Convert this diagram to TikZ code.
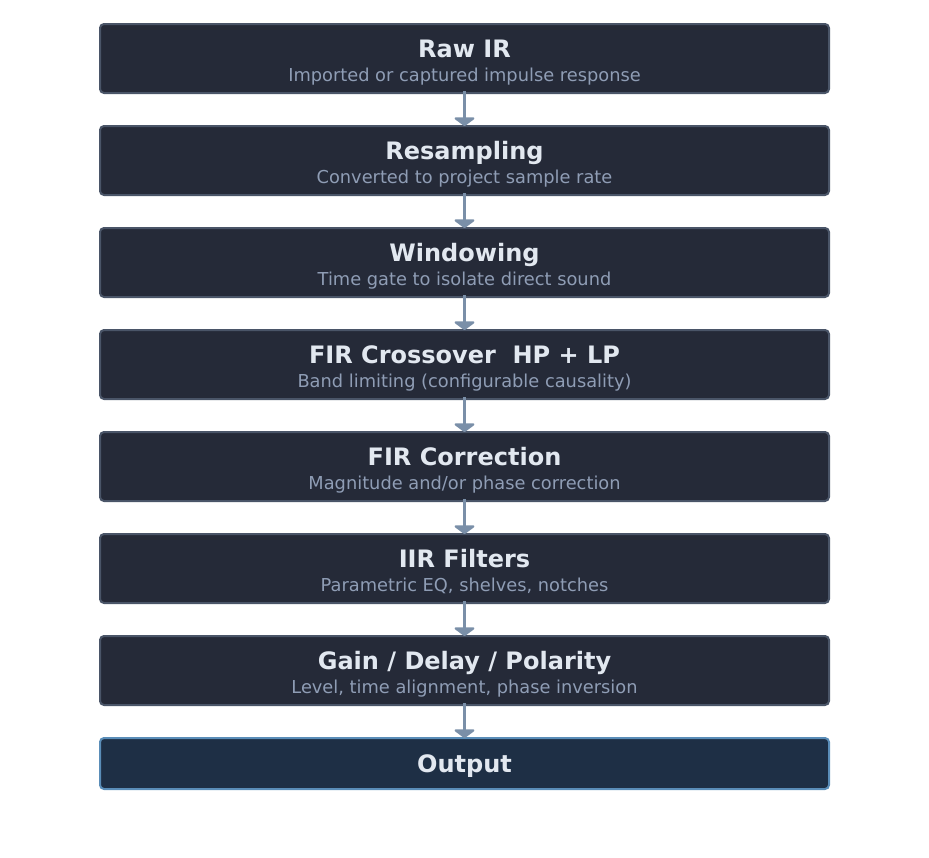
\documentclass[tikz,border=0pt]{standalone}
\usepackage{fontspec}
\setmainfont{DejaVu Sans}
\usepackage{tikz}
\usetikzlibrary{
        arrows.meta,
        positioning
    }
\definecolor{stagefill}{HTML}{252A38}
\definecolor{stageline}{HTML}{4A5568}
\definecolor{outputfill}{HTML}{1E2F45}
\definecolor{outputline}{HTML}{5A8DB8}
\definecolor{titletext}{HTML}{E2E8F0}
\definecolor{subtext}{HTML}{8F9DB5}
\definecolor{flow}{HTML}{7A8FA8}
\tikzset{node distance=33pt}
\tikzset{stage/.style={draw=stageline,fill=stagefill,line width=2pt,rounded corners=4pt,
        minimum width=729pt,minimum height=69pt,inner sep=0pt,outer sep=0pt}}
\tikzset{outputstage/.style={stage,draw=outputline,fill=outputfill,minimum height=51pt}}
\tikzset{title/.style={anchor=base,text=titletext,font=\fontsize{24}{28}\selectfont\bfseries}}
\tikzset{sub/.style={anchor=base,text=subtext,font=\fontsize{17.8}{21}\selectfont}}
\tikzset{flowarrow/.style={-{Triangle[width=24pt,length=9pt,round]},draw=flow,fill=flow,line width=3.5pt}}

\begin{document}
\begin{tikzpicture}
    \useasboundingbox (0,0) rectangle (929pt,-857pt);
    \node[stage] (raw) at (464.5pt,-58.5pt) {};
    \node[stage] (resamp) [below=of raw] {};
    \node[stage] (window) [below=of resamp] {};
    \node[stage] (xover) [below=of window] {};
    \node[stage] (corr) [below=of xover] {};
    \node[stage] (iir) [below=of corr] {};
    \node[stage] (gain) [below=of iir] {};
    \node[outputstage] (output) [below=of gain] {};
    % stage texts
    \node[title] (rawt) at ([yshift=1pt]raw.center) {Raw IR};
    \node[sub] (raws) at ([yshift=-23pt]raw.center) {Imported or captured impulse response};
    \node[title] (resampt) at ([yshift=1pt]resamp.center) {Resampling};
    \node[sub] (resamps) at ([yshift=-23pt]resamp.center) {Converted to project sample rate};
    \node[title] (windowt) at ([yshift=1pt]window.center) {Windowing};
    \node[sub] (windows) at ([yshift=-23pt]window.center) {Time gate to isolate direct sound};
    \node[title] (xovert) at ([yshift=1pt]xover.center) {FIR Crossover\ \ HP + LP};
    \node[sub] (xovers) at ([yshift=-23pt]xover.center) {Band limiting (configurable causality)};
    \node[title] (corrt) at ([yshift=1pt]corr.center) {FIR Correction};
    \node[sub] (corrs) at ([yshift=-23pt]corr.center) {Magnitude and/or phase correction};
    \node[title] (iirt) at ([yshift=1pt]iir.center) {IIR Filters};
    \node[sub] (iirs) at ([yshift=-23pt]iir.center) {Parametric EQ, shelves, notches};
    \node[title] (gaint) at ([yshift=1pt]gain.center) {Gain / Delay / Polarity};
    \node[sub] (gains) at ([yshift=-23pt]gain.center) {Level, time alignment, phase inversion};
    \node[title] (outputt) at ([yshift=-9pt]output.center) {Output};
    % signal flow
    \draw[flowarrow] ([yshift=2pt]raw.south) -- (resamp.north);
    \draw[flowarrow] ([yshift=2pt]resamp.south) -- (window.north);
    \draw[flowarrow] ([yshift=2pt]window.south) -- (xover.north);
    \draw[flowarrow] ([yshift=2pt]xover.south) -- (corr.north);
    \draw[flowarrow] ([yshift=2pt]corr.south) -- (iir.north);
    \draw[flowarrow] ([yshift=2pt]iir.south) -- (gain.north);
    \draw[flowarrow] ([yshift=2pt]gain.south) -- (output.north);
\end{tikzpicture}
\end{document}
